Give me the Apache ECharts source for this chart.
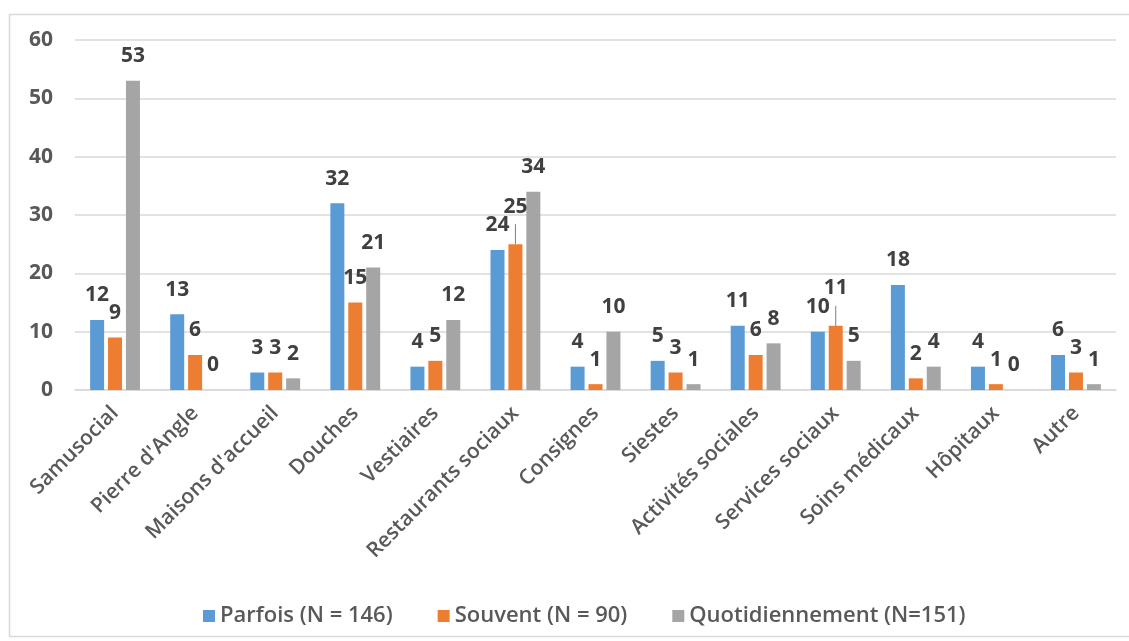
<!DOCTYPE html>
<html>
<head>
<meta charset="utf-8">
<script src="https://cdn.jsdelivr.net/npm/echarts@6/dist/echarts.min.js"></script>
<style>html,body{margin:0;padding:0;background:#fff;}#chart{width:1129px;height:641px;}</style>
</head>
<body>
<div id="chart"></div>
<script>
var categories = ["Samusocial","Pierre d'Angle","Maisons d'accueil","Douches","Vestiaires","Restaurants sociaux","Consignes","Siestes","Activités sociales","Services sociaux","Soins médicaux","Hôpitaux","Autre"];
var seriesNames = ["Parfois (N = 146)","Souvent (N = 90)","Quotidiennement (N=151)"];
var parfois = [12,13,3,32,4,24,4,5,11,10,18,4,6];
var souvent = [9,6,3,15,5,25,1,3,6,11,2,1,3];
var quotidiennement = [53,0,2,21,12,34,10,1,8,5,4,0,1];
var yTicks = [0,10,20,30,40,50,60];

var colors = ['#5B9BD5','#ED7D31','#A5A5A5'];
var font = '"Open Sans", Lato, sans-serif';
// raised labels (with leader lines in reference): series index -> category indices
var raised = {1:[5,9]};

function buildData(vals, si){
  return vals.map(function(v, i){
    if (raised[si] && raised[si].indexOf(i) >= 0) {
      return {value: v, label: {distance: 27}};
    }
    return v;
  });
}

var chart = echarts.init(document.getElementById('chart'));
var allVals = [parfois, souvent, quotidiennement];
var series = allVals.map(function(vals, si){
  return {
    name: seriesNames[si],
    type: 'bar',
    data: buildData(vals, si),
    barWidth: 14,
    barGap: '28%',
    itemStyle: {color: colors[si]},
    label: {
      show: true, position: 'top', distance: 14,
      color: '#404040', fontSize: 21, fontWeight: 'bold', fontFamily: font
    },
    emphasis: {disabled: true}
  };
});

// leader lines for raised labels
var leaderData = [];
Object.keys(raised).forEach(function(si){
  raised[si].forEach(function(ci){
    leaderData.push([ci, allVals[si][ci], Number(si)]);
  });
});
series.push({
  type: 'custom',
  silent: true,
  data: leaderData,
  renderItem: function(params, api){
    var ci = api.value(0), v = api.value(1), si = api.value(2);
    var p = api.coord([ci, v]);
    var off = (si - 1) * 18;
    return {type: 'line', shape: {x1: p[0] + off, y1: p[1], x2: p[0] + off, y2: p[1] - 20},
            style: {stroke: '#7f7f7f', lineWidth: 1}};
  },
  z: 5
});

chart.setOption({
  animation: false,
  graphic: [{
    type: 'rect', left: 7, top: 12, silent: true,
    shape: {width: 1140, height: 622},
    style: {fill: 'none', stroke: '#d9d9d9', lineWidth: 1.5}
  }],
  grid: {left: 75, right: 13, top: 40, bottom: 251, containLabel: false},
  legend: {
    data: seriesNames,
    top: 600, left: 198,
    itemWidth: 12, itemHeight: 12, itemGap: 45,
    icon: 'rect',
    textStyle: {color: '#595959', fontSize: 22, fontWeight: 600, fontFamily: font}
  },
  xAxis: {
    type: 'category',
    data: categories,
    axisLine: {lineStyle: {color: '#d9d9d9', width: 1.5}},
    axisTick: {show: false},
    axisLabel: {rotate: 45, color: '#595959', fontSize: 21, fontWeight: 600, fontFamily: font, margin: 20, interval: 0}
  },
  yAxis: {
    type: 'value',
    min: yTicks[0], max: yTicks[yTicks.length-1], interval: 10,
    axisLine: {show: false},
    axisTick: {show: false},
    splitLine: {lineStyle: {color: '#d9d9d9', width: 1.5}},
    axisLabel: {color: '#595959', fontSize: 21, fontWeight: 'bold', fontFamily: font, margin: 22}
  },
  series: series
});
</script>
</body>
</html>
